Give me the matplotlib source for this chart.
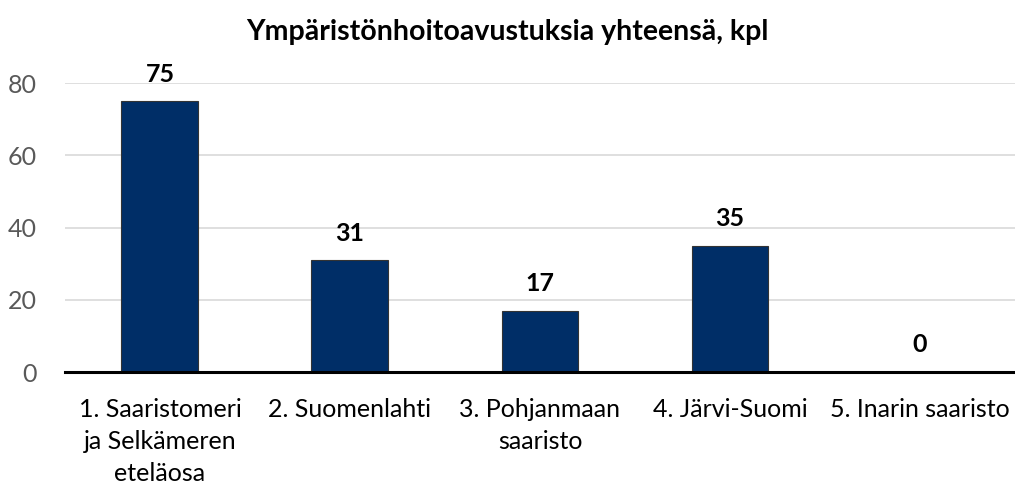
import matplotlib.pyplot as plt

# Avustukset alueittain
alueet = ['1. Saaristomeri\nja Selkämeren\neteläosa', '2. Suomenlahti',
          '3. Pohjanmaan\nsaaristo', '4. Järvi-Suomi', '5. Inarin saaristo']
avustukset = [75, 31, 17, 35, 0]
y_ticks = [0, 20, 40, 60, 80]

plt.rcParams['font.family'] = ['Lato', 'DejaVu Sans']

fig = plt.figure(figsize=(10.15, 4.93), dpi=100)
ax = fig.add_axes([0.064, 0.2454, 0.936, 0.586])

x = range(len(alueet))
bars = ax.bar(x, avustukset, width=0.405, color='#002E67', edgecolor='#333333', linewidth=0.8, zorder=3)

for b, v in zip(bars, avustukset):
    ax.text(b.get_x() + b.get_width() / 2, v + 4.3, str(v), ha='center', va='bottom',
            fontsize=18, fontweight='bold', color='black')

ax.set_xlim(-0.5, 4.5)
ax.set_ylim(0, 80)
ax.set_yticks(y_ticks)
ax.set_xticks(list(x))
ax.set_xticklabels(alueet, fontsize=18, color='black', linespacing=1.45)
ax.tick_params(axis='y', labelsize=18, labelcolor='#595959', length=0, pad=20)
ax.tick_params(axis='x', length=0, pad=19)
ax.grid(axis='y', color='#D9D9D9', linewidth=1.2, zorder=0)

for s in ['top', 'right', 'left']:
    ax.spines[s].set_visible(False)
ax.spines['bottom'].set_linewidth(2.2)
ax.spines['bottom'].set_color('black')
ax.spines['bottom'].set_zorder(4)

fig.text(0.5, 0.935, 'Ympäristönhoitoavustuksia yhteensä, kpl', ha='center', va='center',
         fontsize=20.5, fontweight='bold')

fig.savefig('out.png', dpi=100)
